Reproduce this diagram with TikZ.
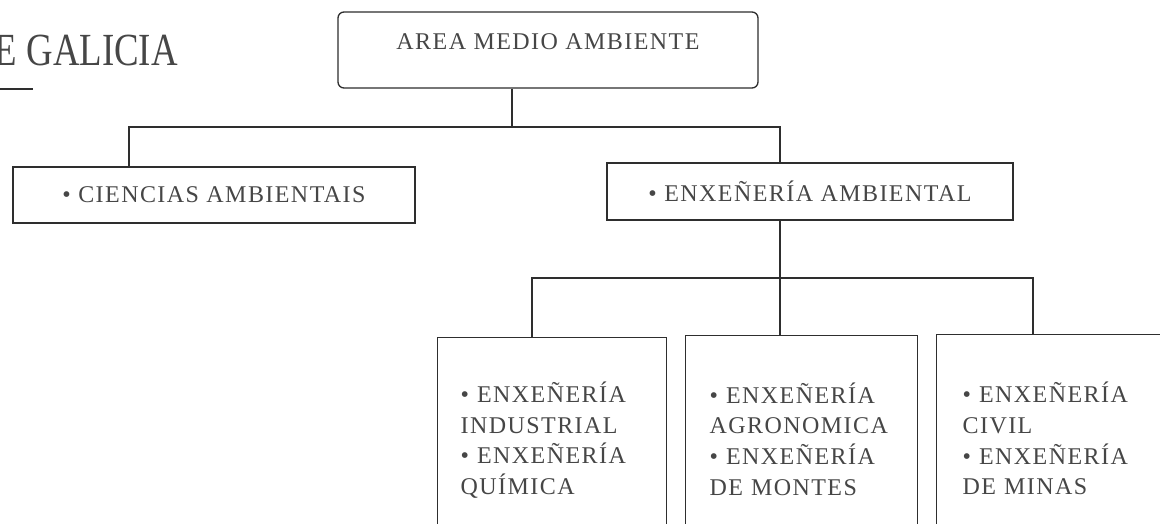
\documentclass[tikz,border=0pt]{standalone}
\usepackage{fontspec}
\setmainfont{Liberation Serif}
\newfontfamily\boxfont{Liberation Serif}[LetterSpace=6]
\definecolor{ink}{HTML}{2E2E2E}
\definecolor{txt}{HTML}{464646}
\tikzset{
  box/.style={draw=ink, line width=1.3pt, inner sep=0pt, text=txt,
    font=\boxfont\fontsize{24}{30.7}\selectfont},
  conn/.style={draw=ink, line width=1.1pt},
}
\begin{document}
\begin{tikzpicture}[x=1pt,y=-1pt]
\useasboundingbox (0,0) rectangle (1160,523);
\clip (0,0) rectangle (1160,523);
\fill[white] (0,0) rectangle (1160,523);
% header fragment
\node[anchor=base east, inner sep=0pt, text=txt, font=\fontsize{46}{50}\selectfont] (hdr) at (178,65) {\scalebox{0.8}[1]{E GALICIA}};
\coordinate (ulA) at (0,89);
\coordinate (ulB) at (33,89);
\draw[conn] (ulA) -- (ulB);
% top box
\node[box, rounded corners=6pt, minimum width=420pt, minimum height=76pt, text height=16pt, text depth=18pt] (top) at (548,50) {AREA MEDIO AMBIENTE};
% second level
\node[box, minimum width=402pt, minimum height=56pt] (left) at (214,195) {• CIENCIAS AMBIENTAIS};
\node[box, minimum width=406pt, minimum height=57pt] (right) at (810,191.5) {• ENXEÑERÍA AMBIENTAL};
% third level
\node[box, anchor=north west, minimum width=229pt, minimum height=205pt, inner xsep=23pt, text width=183pt, align=left] (b1) at (437,337) {• ENXEÑERÍA\\INDUSTRIAL\\• ENXEÑERÍA\\QUÍMICA};
\node[box, anchor=north west, minimum width=232pt, minimum height=207pt, inner xsep=24pt, text width=184pt, align=left] (b2) at (685,335) {• ENXEÑERÍA\\AGRONOMICA\\• ENXEÑERÍA\\DE MONTES};
\node[box, anchor=north west, minimum width=240pt, minimum height=208pt, inner xsep=26pt, text width=188pt, align=left] (b3) at (936,334) {• ENXEÑERÍA\\CIVIL\\• ENXEÑERÍA\\DE MINAS};
% connectors
\coordinate (j1) at (512,127);
\coordinate (hl) at (129,127);
\coordinate (hr) at (780,127);
\draw[conn] (top.south -| j1) -- (j1);
\draw[conn] (left.north -| hl) -- (hl) -- (hr) -- (right.north -| hr);
\coordinate (bl) at (532,278);
\coordinate (bm) at (780,278);
\coordinate (br) at (1033,278);
\draw[conn] (right.south -| bm) -- (bm) -- (b2.north -| bm);
\draw[conn] (b1.north -| bl) -- (bl) -- (br) -- (b3.north -| br);
\end{tikzpicture}
\end{document}
